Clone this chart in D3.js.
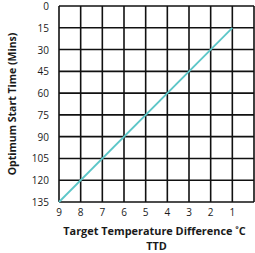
<!DOCTYPE html>
<html>
<head>
<meta charset="utf-8">
<script src="https://cdn.jsdelivr.net/npm/d3@7"></script>
<style>
  body { margin: 0; background: #fff; }
  text { font-family: "Open Sans", sans-serif; fill: #1a1a1a; }
</style>
</head>
<body>
<div id="chart"></div>
<script>
// data
const xTicks = [9, 8, 7, 6, 5, 4, 3, 2, 1];
const yTicks = [0, 15, 30, 45, 60, 75, 90, 105, 120, 135];
const ttd = [9, 1];
const startMins = [135, 15];

const margin = { top: 6, right: 1, bottom: 51, left: 59 };
const W = 255, H = 253;
const width = W - margin.left - margin.right;
const height = H - margin.top - margin.bottom;

const svg = d3.select("#chart").append("svg")
    .attr("width", W).attr("height", H)
    .append("g")
    .attr("transform", "translate(" + margin.left + "," + margin.top + ")");

const x = d3.scaleLinear().domain([9, 0]).range([0, width]);
const y = d3.scaleLinear().domain([0, 135]).range([0, height]);

// grid
svg.append("g")
    .selectAll("line")
    .data(d3.range(0, 10))
    .join("line")
    .attr("x1", d => x(d)).attr("x2", d => x(d))
    .attr("y1", 0).attr("y2", height)
    .attr("stroke", "#111").attr("stroke-width", 1.6);

svg.append("g")
    .selectAll("line")
    .data(yTicks)
    .join("line")
    .attr("x1", 0).attr("x2", width)
    .attr("y1", d => y(d)).attr("y2", d => y(d))
    .attr("stroke", "#111").attr("stroke-width", 1.6);

// tick labels
svg.append("g")
    .selectAll("text")
    .data(yTicks)
    .join("text")
    .attr("x", -10)
    .attr("y", d => y(d))
    .attr("dy", "0.4em")
    .attr("text-anchor", "end")
    .style("font-size", "10px")
    .text(d => d);

svg.append("g")
    .selectAll("text")
    .data(xTicks)
    .join("text")
    .attr("x", d => x(d))
    .attr("y", height + 14)
    .attr("text-anchor", "middle")
    .style("font-size", "10px")
    .text(d => d);

// line
const pts = ttd.map((d, i) => [d, startMins[i]]);
svg.append("path")
    .datum(pts)
    .attr("fill", "none")
    .attr("stroke", "#5cc6c8")
    .attr("stroke-width", 1.8)
    .attr("d", d3.line().x(d => x(d[0])).y(d => y(d[1])));

// titles
svg.append("text")
    .attr("x", width / 2 - 2)
    .attr("y", height + 33)
    .attr("text-anchor", "middle")
    .style("font-size", "10.9px")
    .style("font-weight", "bold")
    .text("Target Temperature Difference ˚C");

svg.append("text")
    .attr("x", width / 2)
    .attr("y", height + 48)
    .attr("text-anchor", "middle")
    .style("font-size", "10.9px")
    .style("font-weight", "bold")
    .text("TTD");

svg.append("text")
    .attr("transform", "rotate(-90)")
    .attr("x", -height / 2)
    .attr("y", -43)
    .attr("text-anchor", "middle")
    .style("font-size", "10.5px")
    .style("font-weight", "bold")
    .text("Optimum Start Time (Mins)");
</script>
</body>
</html>
